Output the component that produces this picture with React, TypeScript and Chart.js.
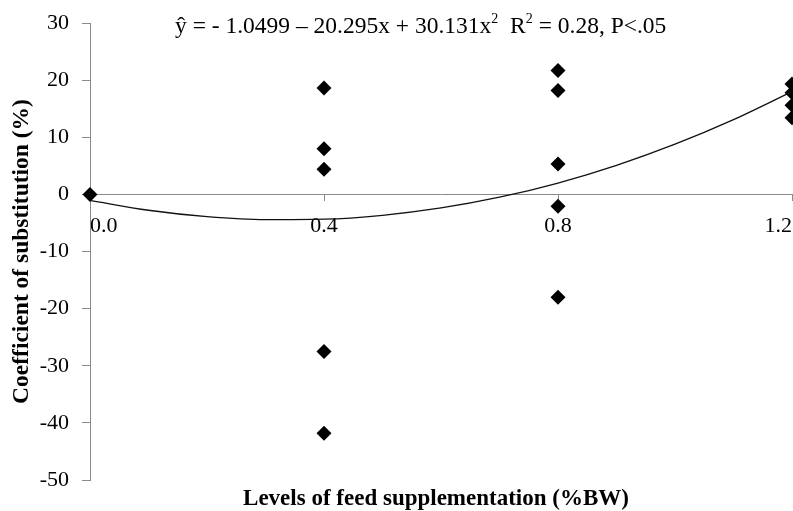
import React, { useEffect, useRef } from "react";
import { Chart, registerables } from "chart.js";

Chart.register(...registerables);

// Observed data points (x = level of feed supplementation, y = coefficient of substitution)
const pointX: number[] = [0.0, 0.4, 0.4, 0.4, 0.4, 0.4, 0.8, 0.8, 0.8, 0.8, 0.8, 1.2, 1.2, 1.2, 1.2];
const pointY: number[] = [0.0, 18.6, 8.0, 4.4, -27.5, -41.8, 21.7, 18.2, 5.3, -2.1, -18.0, 19.3, 17.8, 15.6, 13.4];

// Fitted curve
const curveX: number[] = [0.0, 0.1, 0.2, 0.3, 0.4, 0.5, 0.6, 0.7, 0.8, 0.9, 1.0, 1.1, 1.2];
const curveY: number[] = [-1.05, -2.78, -3.90, -4.43, -4.35, -3.67, -2.38, -0.50, 1.99, 5.09, 8.79, 13.09, 17.99];

const xTickValues: number[] = [0.0, 0.4, 0.8, 1.2];
const yMin = -50;
const yMax = 30;
const yStep = 10;

const xTitle = "Levels of feed supplementation (%BW)";
const yTitle = "Coefficient of substitution (%)";

const FONT = "'Liberation Serif', 'Times New Roman', serif";
const AXIS_GRAY = "#8a8a8a";

const overlayPlugin = {
  id: "overlayText",
  afterDraw(chart: any) {
    const ctx: CanvasRenderingContext2D = chart.ctx;
    const area = chart.chartArea;
    ctx.save();
    ctx.fillStyle = "#000";
    // x axis title
    ctx.font = `bold 23px ${FONT}`;
    ctx.textAlign = "center";
    ctx.textBaseline = "alphabetic";
    ctx.fillText(xTitle, (area.left + area.right) / 2 - 5, 505);

    // equation with superscripts
    const base = 23.5;
    const sup = 14;
    const parts: { t: string; s: boolean }[] = [
      { t: "ŷ = - 1.0499 – 20.295x + 30.131x", s: false },
      { t: "2", s: true },
      { t: "  R", s: false },
      { t: "2", s: true },
      { t: " = 0.28, P<.05", s: false },
    ];
    let x = 175;
    const y = 33;
    ctx.textAlign = "left";
    for (const p of parts) {
      ctx.font = `${p.s ? sup : base}px ${FONT}`;
      ctx.fillText(p.t, x, p.s ? y - 10 : y);
      x += ctx.measureText(p.t).width;
    }
    ctx.restore();
  },
};

export default function App() {
  const canvasRef = useRef<HTMLCanvasElement | null>(null);

  useEffect(() => {
    document.body.style.margin = "0";
    const canvas = canvasRef.current;
    if (!canvas) return;

    const scatterData = pointX.map((x, i) => ({ x, y: pointY[i] }));
    const curveData = curveX.map((x, i) => ({ x, y: curveY[i] }));

    const chart = new Chart(canvas, {
      type: "scatter",
      data: {
        datasets: [
          {
            type: "line",
            label: "Fit",
            data: curveData,
            borderColor: "#111",
            borderWidth: 1.3,
            pointRadius: 0,
            cubicInterpolationMode: "monotone",
            fill: false,
            clip: false,
          } as any,
          {
            label: "Observed",
            data: scatterData,
            pointStyle: "rectRot",
            pointRadius: 7.5,
            pointBackgroundColor: "#000",
            pointBorderColor: "#000",
            borderWidth: 0,
            clip: false,
          } as any,
        ],
      },
      options: {
        animation: false,
        responsive: false,
        maintainAspectRatio: false,
        layout: { autoPadding: false, padding: { top: 23, bottom: 31, left: 0, right: 1 } },
        plugins: {
          legend: { display: false },
          tooltip: { enabled: false },
          title: { display: false },
        },
        scales: {
          x: {
            type: "linear",
            position: { y: 0 } as any,
            min: 0,
            max: 1.2,
            afterBuildTicks: (s: any) => {
              s.ticks = xTickValues.map((v) => ({ value: v }));
            },
            afterFit: (s: any) => {
              s.height = 0;
              s.paddingLeft = 0;
              s.paddingRight = 0;
            },
            grid: {
              drawOnChartArea: false,
              drawTicks: true,
              tickLength: 6,
              color: AXIS_GRAY,
            },
            border: { display: true, color: AXIS_GRAY, width: 1 },
            ticks: {
              align: "inner",
              padding: 13,
              color: "#000",
              font: { family: FONT, size: 22 },
              callback: (v: any) => Number(v).toFixed(1),
            },
            title: { display: false },
          },
          y: {
            type: "linear",
            min: yMin,
            max: yMax,
            afterFit: (s: any) => {
              s.width = 90;
              s.paddingTop = 0;
              s.paddingBottom = 0;
            },
            grid: {
              drawOnChartArea: false,
              drawTicks: true,
              tickLength: 8,
              color: AXIS_GRAY,
            },
            border: { display: true, color: AXIS_GRAY, width: 1 },
            ticks: {
              stepSize: yStep,
              padding: 13,
              color: "#000",
              font: { family: FONT, size: 22 },
            },
            title: {
              display: true,
              text: yTitle,
              color: "#000",
              font: { family: FONT, size: 23.5, weight: "bold" },
              padding: { top: 8, bottom: 0 },
            },
          },
        },
      },
      plugins: [overlayPlugin],
    });

    return () => chart.destroy();
  }, []);

  return (
    <div style={{ position: "absolute", left: 0, top: 0, width: 793, height: 511 }}>
      <canvas ref={canvasRef} width={793} height={511} style={{ width: 793, height: 511 }} />
    </div>
  );
}
